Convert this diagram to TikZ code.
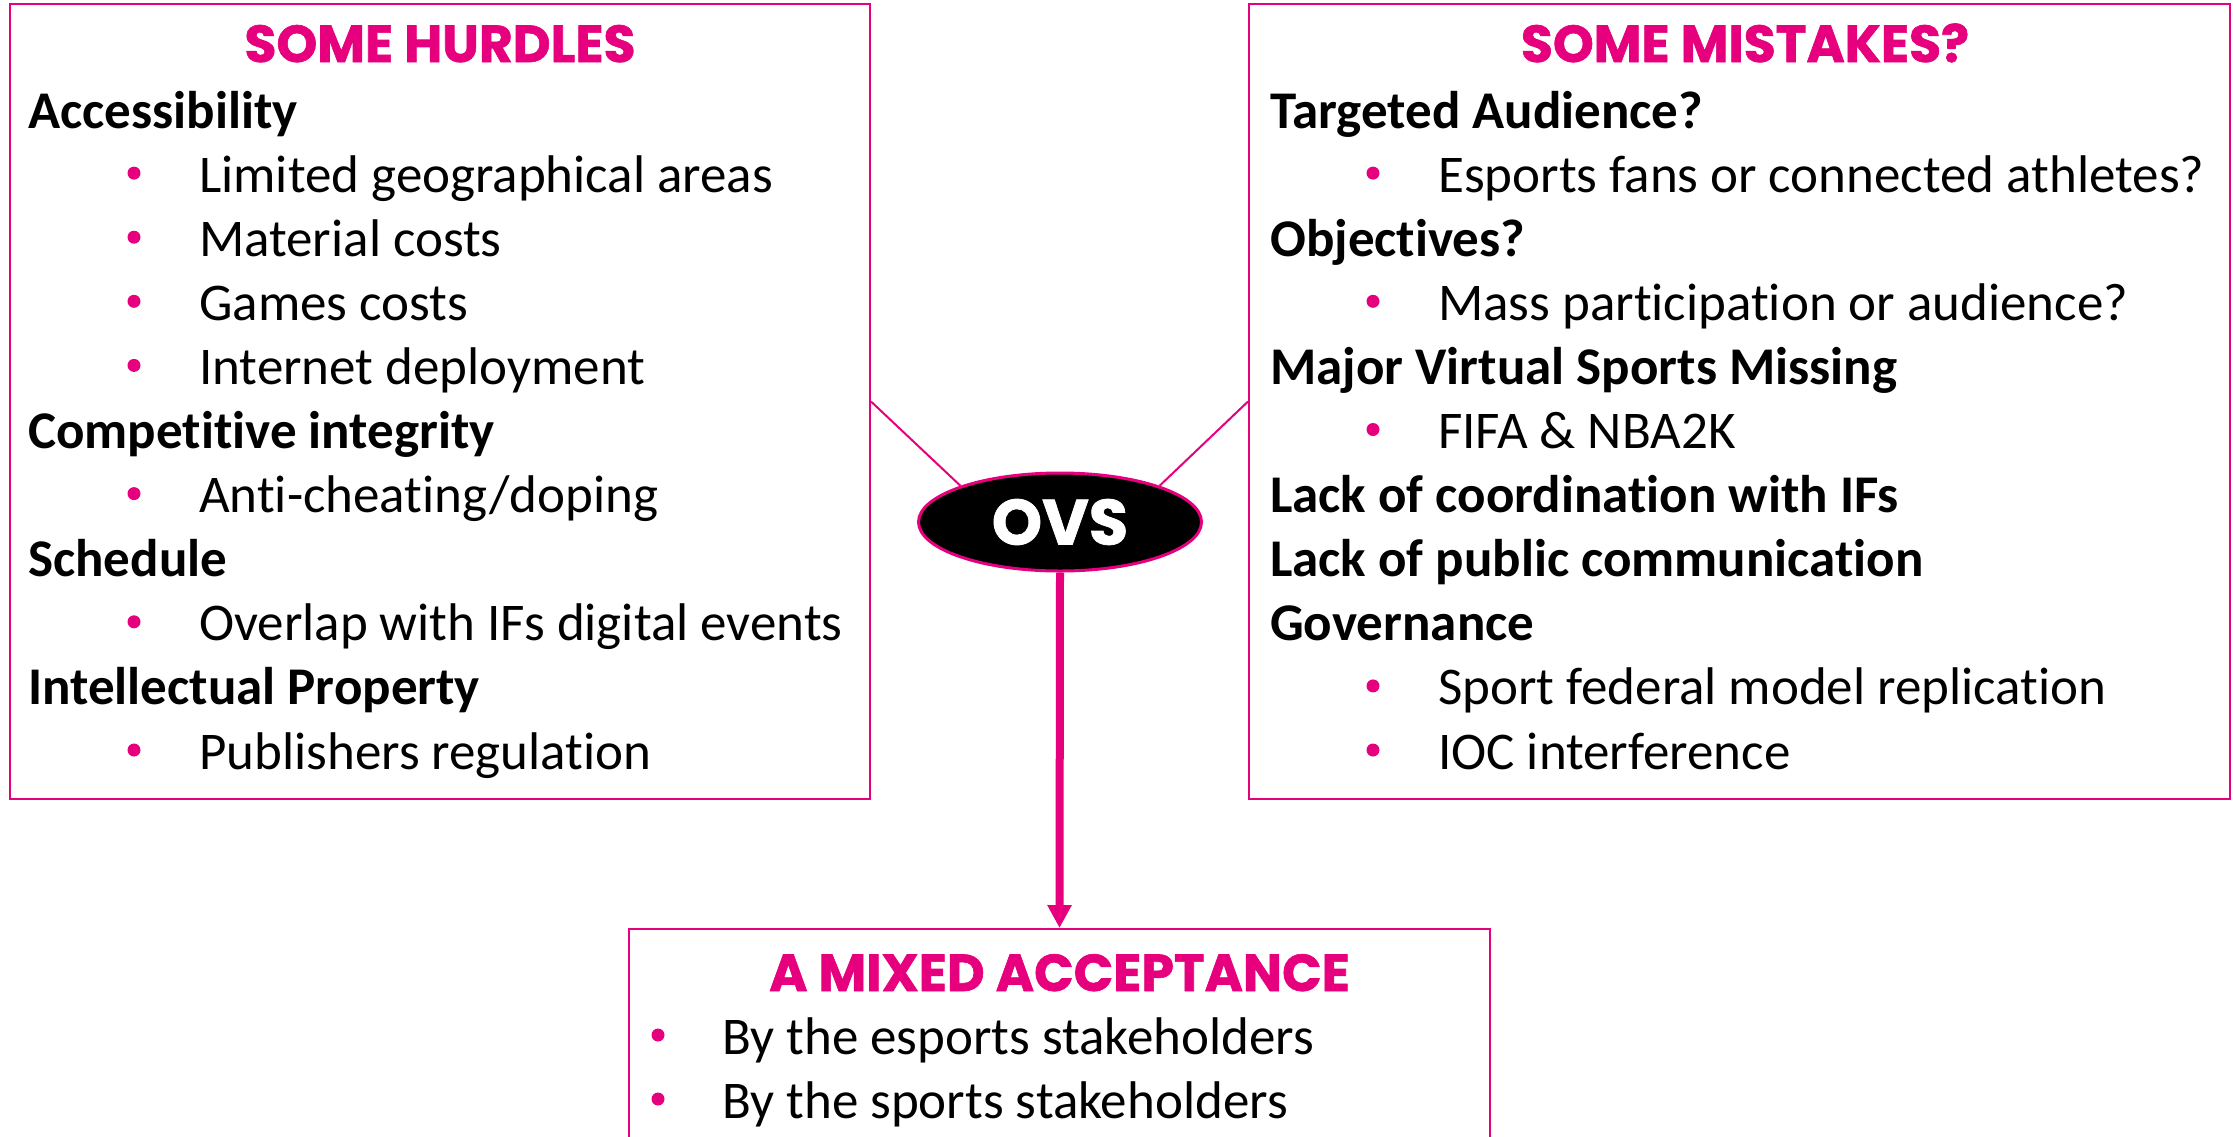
\documentclass[tikz,border=0pt]{standalone}
\usepackage{fontspec}
\setmainfont{Carlito}[Ligatures=CommonOff]
\newfontfamily\titlefont{Poppins}[FakeBold=1.2]
\usetikzlibrary{arrows.meta,shapes.geometric}
\definecolor{pinkc}{HTML}{E6007E}
\begin{document}
\begin{tikzpicture}[x=1pt,y=-1pt,
 box/.style={draw=pinkc, line width=2pt, inner sep=0pt},
 ttl/.style={anchor=base, text=pinkc, inner sep=0pt, font=\titlefont\bfseries\fontsize{52}{60}\selectfont},
 hd/.style={anchor=base west, inner sep=0pt, font=\bfseries\fontsize{53}{64}\selectfont},
 itm/.style={anchor=base west, inner sep=0pt, font=\fontsize{53}{64}\selectfont},
 bul/.style={circle, fill=pinkc, inner sep=0pt, minimum size=13pt, yshift=19pt},
 link/.style={draw=pinkc, line width=2pt}]
\useasboundingbox (0,0) rectangle (2233,1136);
\clip (0,0) rectangle (2233,1136);
% boxes
\node[box, minimum width=860pt, minimum height=795pt] (L) at (440,401.5) {};
\node[box, minimum width=981pt, minimum height=795pt] (R) at (1739.5,401.5) {};
\node[box, minimum width=861pt, minimum height=240pt] (B) at (1059.5,1049) {};
% centre
\node[ellipse, draw=pinkc, fill=black, line width=3pt, minimum width=283pt, minimum height=98pt, inner sep=0pt,
  text=white, font=\titlefont\bfseries\fontsize{64}{70}\selectfont] (ovs) at (1060,522) {OVS};
\draw[link] (L.east) -- (ovs.160);
\draw[link] (R.west) -- (ovs.20);
\draw[draw=pinkc, line width=8pt, -{Triangle[length=23pt,width=23pt]}] (ovs.south) -- (B.north);
% titles
\node[ttl] (tL) at (440,62) {SOME HURDLES};
\node[ttl] (tR) at (1745,62) {SOME MISTAKES?};
\node[ttl] (tB) at (1059.5,991) {A MIXED ACCEPTANCE};
% left box
\node[hd] (l1) at (28,128) {Accessibility};
\node[bul] (lb2) at (134,192.1) {}; \node[itm] (l2) at (199,192.1) {Limited geographical areas};
\node[bul] (lb3) at (134,256.2) {}; \node[itm] (l3) at (199,256.2) {Material costs};
\node[bul] (lb4) at (134,320.3) {}; \node[itm] (l4) at (199,320.3) {Games costs};
\node[bul] (lb5) at (134,384.4) {}; \node[itm] (l5) at (199,384.4) {Internet deployment};
\node[hd] (l6) at (28,448.5) {Competitive integrity};
\node[bul] (lb7) at (134,512.6) {}; \node[itm] (l7) at (199,512.6) {Anti-cheating/doping};
\node[hd] (l8) at (28,576.7) {Schedule};
\node[bul] (lb9) at (134,640.8) {}; \node[itm] (l9) at (199,640.8) {Overlap with IFs digital events};
\node[hd] (l10) at (28,704.9) {Intellectual Property};
\node[bul] (lb11) at (134,769) {}; \node[itm] (l11) at (199,769) {Publishers regulation};
% right box
\node[hd] (r1) at (1270,128) {Targeted Audience?};
\node[bul] (rb2) at (1373,192.1) {}; \node[itm] (r2) at (1438,192.1) {Esports fans or connected athletes?};
\node[hd] (r3) at (1270,256.2) {Objectives?};
\node[bul] (rb4) at (1373,320.3) {}; \node[itm] (r4) at (1438,320.3) {Mass participation or audience?};
\node[hd] (r5) at (1270,384.4) {Major Virtual Sports Missing};
\node[bul] (rb6) at (1373,448.5) {}; \node[itm] (r6) at (1438,448.5) {FIFA \& NBA2K};
\node[hd] (r7) at (1270,512.6) {Lack of coordination with IFs};
\node[hd] (r8) at (1270,576.7) {Lack of public communication};
\node[hd] (r9) at (1270,640.8) {Governance};
\node[bul] (rb10) at (1373,704.9) {}; \node[itm] (r10) at (1438,704.9) {Sport federal model replication};
\node[bul] (rb11) at (1373,769) {}; \node[itm] (r11) at (1438,769) {IOC interference};
% bottom box
\node[bul] (bb1) at (658,1054) {}; \node[itm] (b1) at (722,1054) {By the esports stakeholders};
\node[bul] (bb2) at (658,1118) {}; \node[itm] (b2) at (722,1118) {By the sports stakeholders};
\end{tikzpicture}
\end{document}
